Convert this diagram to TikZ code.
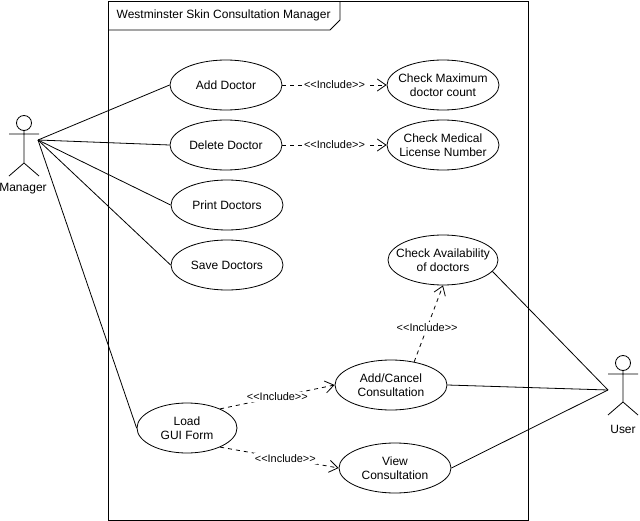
\documentclass[tikz,border=0pt]{standalone}
\usepackage{fontspec}
\setmainfont{Liberation Sans}
\newfontfamily\tagfont{Liberation Sans}
\usetikzlibrary{shapes,arrows.meta}

\newcommand{\incl}{<<Include>>}

\begin{document}
\begin{tikzpicture}[x=0.75pt,y=-0.75pt]
      \tikzstyle{point} = [coordinate]
      \tikzstyle{usecase} = [ellipse, draw, semithick, minimum width=84pt, minimum height=37.5pt, inner sep=0pt, inner xsep=-8pt, align=center, font=\fontsize{9}{10.5}\selectfont]
      \tikzstyle{actor} = [font=\fontsize{9}{10.5}\selectfont]
      \tikzstyle{include} = [semithick, dashed, -{Straight Barb[length=6.5pt,width=9pt]}]
      \tikzstyle{tag} = [fill=white, inner sep=1pt, font=\tagfont\fontsize{8.2}{9.5}\selectfont]
      \useasboundingbox (0,0) rectangle (640,521);
      % system frame
      \draw [semithick] (108,1) rectangle (528,520);
      \draw [semithick] (108,30)--(330,30)--(340,20)--(340,1);
      \node (title) [anchor=west, font=\fontsize{9}{10.5}\selectfont] at (112,15) {Westminster Skin Consultation Manager};
      % actors
      \draw [semithick] (24,123) circle (7.5);
      \draw [semithick] (24,130.5)--(24,163) (9,134)--(39,134) (9,176)--(24,163)--(39,176);
      \node (mlabel) [actor] at (23,189) {Manager};
      \node (manager) [point] at (38,140) {};
      \draw [semithick] (623,363) circle (7.5);
      \draw [semithick] (623,370.5)--(623,402) (608,374)--(638,374) (608,415)--(623,402)--(638,415);
      \node (ulabel) [actor] at (623,429) {User};
      \node (user) [point] at (608,390) {};
      % use cases
      \node (adddoc) [usecase] at (226,85) {Add Doctor};
      \node (deldoc) [usecase] at (226,145) {Delete Doctor};
      \node (printdoc) [usecase] at (227,205) {Print Doctors};
      \node (savedoc) [usecase] at (227,265) {Save Doctors};
      \node (checkmax) [usecase] at (443,85) {Check Maximum\\doctor count};
      \node (checklic) [usecase] at (443,145) {Check Medical\\License Number};
      \node (checkav) [usecase, minimum width=82.5pt] at (443,260) {Check Availability\\of doctors};
      \node (addcancel) [usecase] at (391,385) {Add/Cancel\\Consultation};
      \node (loadgui) [usecase, minimum width=75pt] at (187,428) {Load\\GUI Form};
      \node (viewcons) [usecase] at (395,468) {View\\Consultation};
      % associations
      \draw [semithick] (manager)--(adddoc.west);
      \draw [semithick] (manager)--(deldoc.west);
      \draw [semithick] (manager)--(printdoc.west);
      \draw [semithick] (manager)--(savedoc.west);
      \draw [semithick] (manager)--(loadgui.west);
      \draw [semithick] (user)--(checkav.-13);
      \draw [semithick] (user)--(addcancel.east);
      \draw [semithick] (user)--(viewcons.east);
      % includes
      \draw [include] (adddoc)--node[tag]{\incl} (checkmax);
      \draw [include] (deldoc)--node[tag]{\incl} (checklic);
      \draw [include] (addcancel.45)--node[tag, pos=0.45]{\incl} (checkav.south);
      \draw [include] (loadgui.30)--node[tag]{\incl} (addcancel.west);
      \draw [include] (loadgui.-30)--node[tag, pos=0.55]{\incl} (viewcons.west);
\end{tikzpicture}
\end{document}
